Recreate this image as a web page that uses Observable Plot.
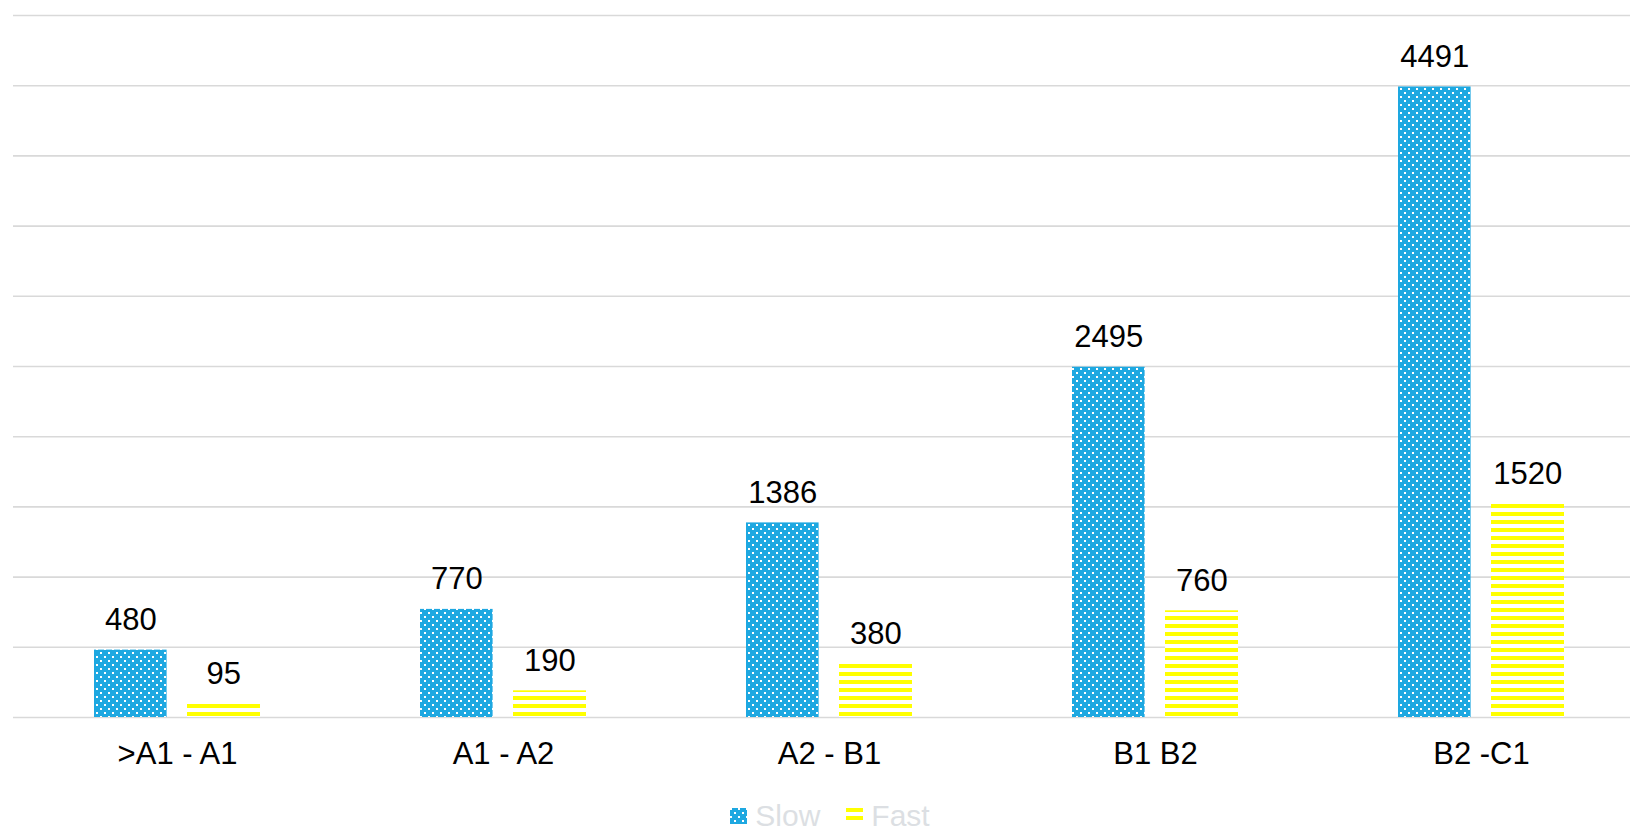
<!DOCTYPE html>
<html>
<head>
<meta charset="utf-8">
<script src="https://cdn.jsdelivr.net/npm/d3@7"></script>
<script src="https://cdn.jsdelivr.net/npm/@observablehq/plot@0.6"></script>
<style>
  html, body { margin: 0; padding: 0; background: #fff; }
  body { width: 1630px; height: 831px; overflow: hidden; font-family: "Liberation Sans", Arial, sans-serif; }
  #legend { display: flex; justify-content: center; align-items: center; height: 41px; padding-left: 30px; padding-top: 5px;
            font-size: 30px; color: #dcdfe3; font-family: "Liberation Sans", Arial, sans-serif; }
  #legend .item { display: flex; align-items: center; margin: 0 13px; }
  #legend svg { margin-right: 8px; }
</style>
</head>
<body>
<div id="chart"></div>
<div id="legend"></div>
<script>
const categories = [">A1 - A1", "A1 - A2", "A2 - B1", "B1 B2", "B2 -C1"];
const slowValues = [480, 770, 1386, 2495, 4491];
const fastValues = [95, 190, 380, 760, 1520];
const seriesNames = ["Slow", "Fast"];
const gridTicks = d3.range(0, 5001, 500);

const slowData = categories.map((c, i) => ({category: c, value: slowValues[i]}));
const fastData = categories.map((c, i) => ({category: c, value: fastValues[i]}));

const W = 1630, H = 790;
const band = (1645 - 13) / categories.length;
const barW = 73, outer = 80, gap = 20;

const plot = Plot.plot({
  width: W,
  height: H,
  marginLeft: 13,
  marginRight: 0,
  marginTop: 15,
  marginBottom: 73,
  style: {fontFamily: "Liberation Sans, Arial, sans-serif", background: "#fff"},
  x: {type: "band", domain: categories, range: [13, 1645], padding: 0},
  y: {domain: [0, 5000], range: [717, 15], axis: null},
  marks: [
    Plot.ruleY(gridTicks, {stroke: "#d9d9d9", strokeWidth: 1.6}),
    Plot.barY(slowData, {x: "category", y: "value", fill: "url(#slowPat)",
      insetLeft: outer, insetRight: band - outer - barW}),
    Plot.barY(fastData, {x: "category", y: "value", fill: "url(#fastPat)",
      insetLeft: outer + barW + gap, insetRight: outer}),
    Plot.text(slowData, {x: "category", y: "value", text: d => String(d.value),
      dx: outer + barW / 2 - band / 2, dy: -30, fontSize: 31, fill: "#000"}),
    Plot.text(fastData, {x: "category", y: "value", text: d => String(d.value),
      dx: outer + barW + gap + barW / 2 - band / 2, dy: -30, fontSize: 31, fill: "#000"}),
    Plot.axisX({tickSize: 0, tickPadding: 24, fontSize: 31, color: "#000", lineAnchor: "top", label: null})
  ]
});

// patterns
const defs = `
<defs>
  <pattern id="slowPat" patternUnits="userSpaceOnUse" width="8" height="8">
    <rect width="8" height="8" fill="#1ea8e1"/>
    <rect x="0" y="0" width="2" height="2" fill="#fff"/>
    <rect x="4" y="4" width="2" height="2" fill="#fff"/>
  </pattern>
  <pattern id="fastPat" patternUnits="userSpaceOnUse" width="8" height="8">
    <rect width="8" height="8" fill="#fff"/>
    <rect x="0" y="0" width="8" height="4" fill="#ffff00"/>
  </pattern>
</defs>`;
plot.insertAdjacentHTML("afterbegin", defs);
document.getElementById("chart").appendChild(plot);

// legend
const legend = document.getElementById("legend");
const fills = {Slow: "url(#slowPat)", Fast: "url(#fastPat)"};
seriesNames.forEach(name => {
  const item = document.createElement("div");
  item.className = "item";
  item.innerHTML = `<svg width="17" height="16"><rect width="17" height="16" fill="${fills[name]}"/></svg><span>${name}</span>`;
  legend.appendChild(item);
});
</script>
</body>
</html>
